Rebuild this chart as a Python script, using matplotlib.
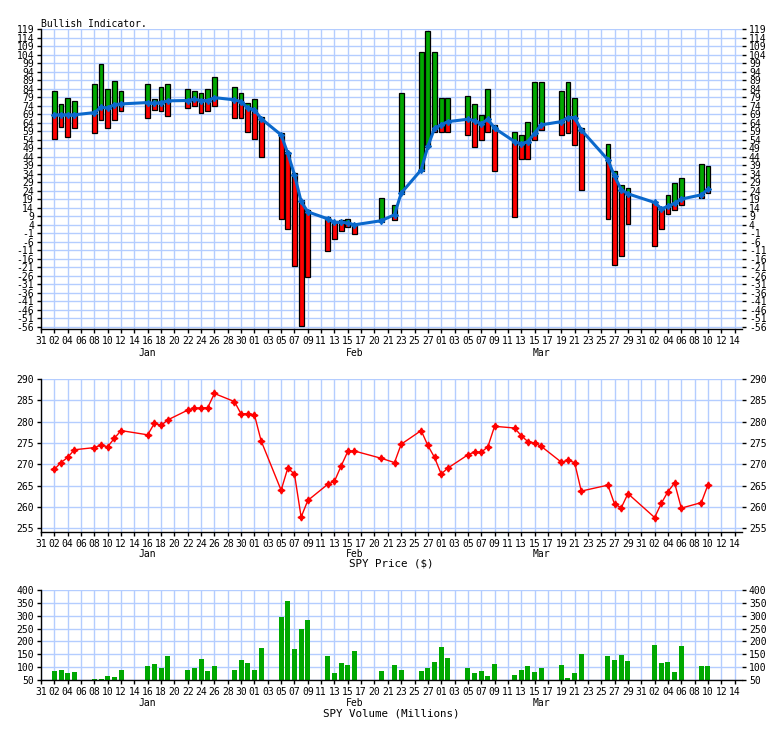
import numpy as np
import pandas as pd
import matplotlib
matplotlib.use("Agg")
import matplotlib.pyplot as plt

# trading days shown (2018)
dates = ['01-02', '01-03', '01-04', '01-05', '01-08', '01-09', '01-10', '01-11', '01-12',
         '01-16', '01-17', '01-18', '01-19', '01-22', '01-23', '01-24', '01-25', '01-26',
         '01-29', '01-30', '01-31', '02-01', '02-02', '02-05', '02-06', '02-07', '02-08',
         '02-09', '02-12', '02-13', '02-14', '02-15', '02-16', '02-20', '02-22', '02-23',
         '02-26', '02-27', '02-28', '03-01', '03-02', '03-05', '03-06', '03-07', '03-08',
         '03-09', '03-12', '03-13', '03-14', '03-15', '03-16', '03-19', '03-20', '03-21',
         '03-22', '03-26', '03-27', '03-28', '03-29', '04-02', '04-03', '04-04', '04-05',
         '04-06', '04-09', '04-10']

# bullish indicator: bar top, bar bottom, moving average
bull_hi = [82.6, 74.8, 78.3, 76.8, 86.7, 98.5, 83.6, 88.3, 82.6,
           86.5, 78.1, 84.8, 86.5, 83.6, 82.4, 81.3, 83.6, 90.6,
           84.8, 81.3, 75.4, 77.7, 67.6, 58.2, 46.8, 34.3, 18.5,
           12.4, 8.5, 6.0, 6.8, 7.3, 4.6, 19.7, 15.6, 81.3,
           105.3, 118.0, 105.3, 78.3, 78.3, 79.5, 74.8, 68.4, 83.6,
           62.5, 58.4, 56.6, 64.2, 87.7, 87.7, 82.4, 87.7, 78.3,
           60.7, 51.3, 35.5, 27.3, 25.5, 17.3, 13.8, 21.4, 28.5,
           31.4, 39.6, 38.4]
bull_lo = [54.3, 61.3, 55.4, 60.7, 57.8, 65.4, 60.7, 65.4, 70.7,
           66.6, 71.3, 70.7, 67.8, 72.5, 73.6, 69.5, 70.7, 73.6,
           66.6, 66.6, 58.4, 54.3, 43.7, 7.3, 1.5, -20.4, -55.4,
           -26.7, -11.4, -4.4, 0.3, 2.7, -1.5, 5.6, 6.8, 22.0,
           35.7, 49.6, 58.4, 58.4, 58.4, 56.6, 49.6, 53.7, 58.4,
           35.5, 8.5, 42.5, 42.5, 53.7, 59.6, 56.6, 57.8, 50.8,
           24.4, 7.3, -19.6, -14.4, 4.4, -8.5, 1.5, 10.3, 12.6,
           15.6, 19.7, 22.6]
bull_ma = [68.6, 68.6, 68.6, 68.6, 69.9, 73.0, 72.7, 74.6, 75.0,
           75.8, 75.4, 75.8, 76.8, 77.0, 77.7, 77.0, 77.0, 78.7,
           77.4, 76.4, 72.5, 71.5, 66.4, 56.8, 46.0, 33.4, 17.7,
           11.6, 7.5, 5.4, 5.6, 5.0, 4.0, 6.4, 9.9, 22.6,
           36.3, 50.0, 60.7, 62.7, 64.6, 66.0, 65.2, 63.3, 66.0,
           60.7, 52.9, 51.5, 52.9, 57.8, 62.7, 64.6, 67.0, 67.0,
           59.7, 42.2, 32.4, 24.6, 22.2, 17.1, 13.4, 14.8, 16.7,
           19.1, 21.6, 24.9]

spy_price = [268.8, 270.4, 271.6, 273.4, 273.9, 274.5, 274.1, 276.1, 277.9,
             276.9, 279.6, 279.1, 280.4, 282.7, 283.2, 283.2, 283.3, 286.6,
             284.7, 281.8, 281.9, 281.6, 275.5, 263.9, 269.1, 267.7, 257.6,
             261.5, 265.3, 266.0, 269.6, 273.0, 273.1, 271.4, 270.4, 274.7,
             277.9, 274.4, 271.6, 267.7, 269.1, 272.2, 272.9, 272.8, 274.1,
             278.9, 278.5, 276.7, 275.3, 275.0, 274.2, 270.5, 270.9, 270.4,
             263.7, 265.1, 260.6, 259.8, 263.1, 257.5, 260.8, 263.6, 265.6,
             259.7, 261.0, 265.2]

spy_volume = [86.6, 90.5, 78.7, 82.6, 55.2, 55.0, 66.9, 63.0, 90.5,
              106, 114, 98.6, 141.4, 90.5, 98.6, 133.6, 84.0, 106,
              90.5, 129.7, 118, 90.5, 172.8, 294, 356.9, 168.8, 247.2,
              282.5, 141.4, 78.7, 118, 110, 161, 86.6, 110, 90.5,
              86.6, 97, 121.8, 176.7, 137.5, 98.6, 78.7, 86.6, 66.9,
              114, 70.9, 90.5, 106, 82.6, 98.6, 110, 59, 78.7,
              149.2, 141.4, 129.7, 145.3, 125.8, 184.5, 118, 121.8, 82.6,
              180.6, 106, 106]

xtick_labels = ['31', '02', '04', '06', '08', '10', '12', '14', '16', '18', '20', '22', '24',
                '26', '28', '30', '01', '03', '05', '07', '09', '11', '13', '15', '17', '20',
                '21', '23', '25', '27', '01', '03', '05', '07', '09', '11', '13', '15', '17',
                '19', '21', '23', '25', '27', '29', '31', '02', '04', '06', '08', '10', '12', '14']
months = ['Jan', 'Feb', 'Mar']
month_dates = ['2018-01-16', '2018-02-16', '2018-03-16']

start = pd.Timestamp('2017-12-31')
x = np.array([(pd.Timestamp('2018-' + d) - start).days for d in dates])
month_x = [(pd.Timestamp(d) - start).days for d in month_dates]
hi = np.array(bull_hi)
lo = np.array(bull_lo)
ma = np.array(bull_ma)

FONT = 'DejaVu Sans Mono'
FS = 7.0
GRID = '#b4cdff'
GREEN = '#00a800'
RED = '#ff0000'
BLUE = '#0a68cc'

fig = plt.figure(figsize=(7.84, 7.29), dpi=100)
W, H = 784, 729


def make_axes(top, bottom):
    return fig.add_axes([41 / W, 1 - bottom / H, 701 / W, (bottom - top) / H])


def style(ax, yticks, ylabels, label_dy):
    ax.set_xlim(0, 105.1)
    ax.set_xticks(np.arange(0, 105, 2))
    ax.set_xticklabels(xtick_labels)
    ax.set_yticks(yticks)
    ax.set_yticklabels(ylabels)
    ax.grid(True, color=GRID, lw=1.0, zorder=0)
    ax.set_axisbelow(True)
    for s in ['top', 'right']:
        ax.spines[s].set_visible(False)
    for s in ['left', 'bottom']:
        ax.spines[s].set_linewidth(1.0)
    ax.tick_params(axis='both', direction='out', length=3, width=1,
                   labelsize=FS, pad=2)
    ax.tick_params(axis='y', right=True, labelright=True)
    for lab in ax.get_xticklabels() + ax.get_yticklabels():
        lab.set_family(FONT)
    for m, mx in zip(months, month_x):
        ax.annotate(m, xy=(mx, 0), xycoords=('data', 'axes fraction'),
                    xytext=(0, -label_dy), textcoords='offset pixels',
                    ha='center', va='center', fontsize=FS, family=FONT)


# --- Bullish indicator ---
ax1 = make_axes(29, 329)
ax1.set_ylim(-57.2, 119)
yt = np.arange(-56, 120, 5)
style(ax1, yt, [str(v) for v in yt], 24)
g_bot = np.maximum(lo, ma)
g_mask = hi > ma
ax1.bar(x[g_mask], (hi - g_bot)[g_mask], bottom=g_bot[g_mask], width=0.72,
        color=GREEN, edgecolor='black', linewidth=0.9, zorder=2)
r_top = np.minimum(hi, ma)
r_mask = lo < ma
ax1.bar(x[r_mask], (r_top - lo)[r_mask], bottom=lo[r_mask], width=0.72,
        color=RED, edgecolor='black', linewidth=0.9, zorder=2)
ax1.plot(x, ma, color=BLUE, lw=2.2, marker=(4, 1, 0), ms=4.5, zorder=3)
ax1.text(0, 1, 'Bullish Indicator.', transform=ax1.transAxes, ha='left',
         va='bottom', fontsize=FS, family=FONT)

# --- SPY price ---
ax2 = make_axes(379, 532)
ax2.set_ylim(254.1, 290)
yt2 = np.arange(255, 291, 5)
style(ax2, yt2, [str(v) for v in yt2], 22)
ax2.plot(x, spy_price, color=RED, lw=1.0, marker=(4, 1, 0), ms=5, zorder=3)
ax2.annotate('SPY Price ($)', xy=(0.5, 0), xycoords='axes fraction',
             xytext=(-0.5, -32), textcoords='offset pixels', ha='center',
             va='center', fontsize=FS + 0.8, family=FONT)

# --- SPY volume ---
ax3 = make_axes(590, 680)
ax3.set_ylim(50, 400)
yt3 = np.arange(50, 401, 50)
style(ax3, yt3, [str(v) for v in yt3], 23)
ax3.bar(x, spy_volume, width=0.75, color=GREEN, zorder=2)
ax3.annotate('SPY Volume (Millions)', xy=(0.5, 0), xycoords='axes fraction',
             xytext=(-0.5, -33), textcoords='offset pixels', ha='center',
             va='center', fontsize=FS + 0.8, family=FONT)

fig.savefig('out.png', dpi=100)
